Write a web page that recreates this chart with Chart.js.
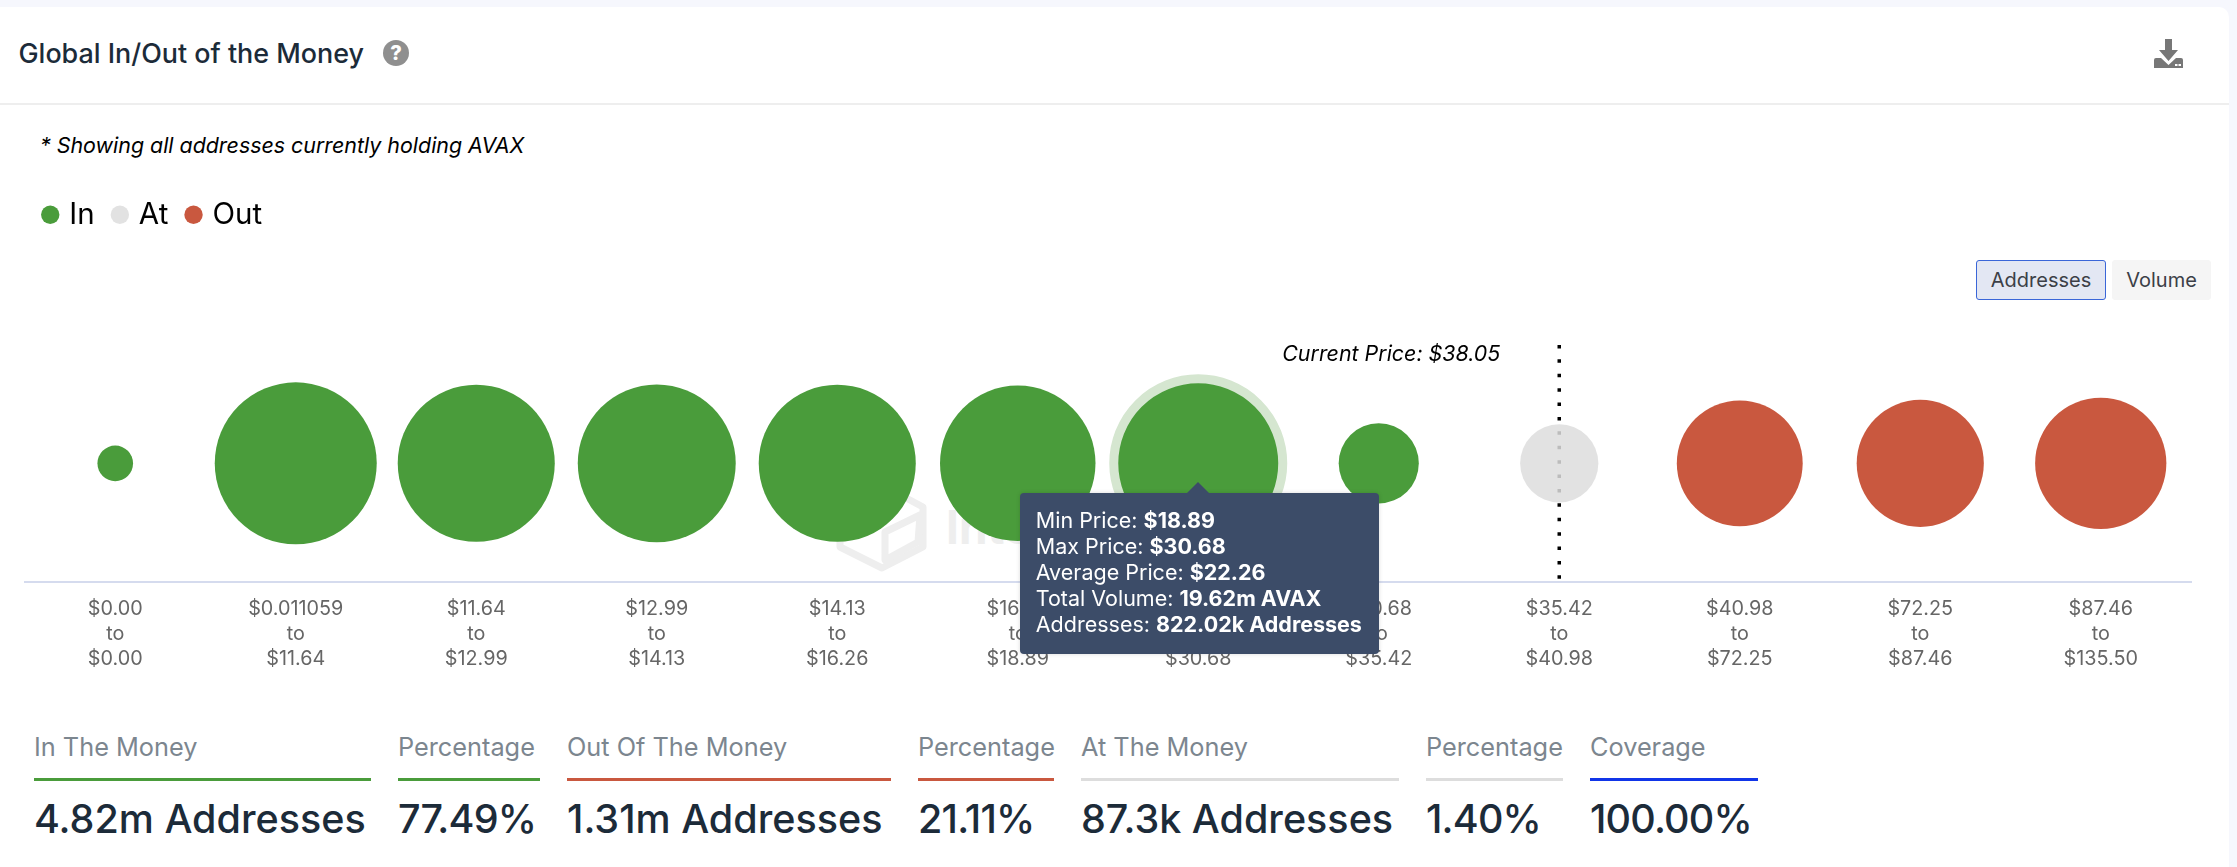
<!DOCTYPE html>
<html>
<head>
<meta charset="utf-8">
<title>Global In/Out of the Money</title>
<script src="https://cdn.jsdelivr.net/npm/chart.js@4/dist/chart.umd.js"></script>
<style>
  html, body { margin: 0; padding: 0; background: #f6f7fd; }
  body { width: 2237px; height: 867px; position: relative; overflow: hidden; font-family: Inter, sans-serif; }
  #card { position: absolute; left: 0; top: 7px; width: 2229px; height: 860px; background: #fff; border-top-right-radius: 10px; }
  #headerLine { position: absolute; left: 0; top: 103px; width: 2229px; height: 2px; background: #eeeeee; }
  #title { position: absolute; left: 18.500px; top: 36px; font-size: 26.9px; line-height: 34px; font-weight: 500; color: #1c2b39; white-space: nowrap; }
  #help { position: absolute; left: 383px; top: 40px; width: 26px; height: 26px; border-radius: 50%; background: #8f8f8f; color: #fff; font-size: 20px; font-weight: 800; line-height: 26px; text-align: center; }
  #download { position: absolute; left: 2154px; top: 39px; }
  #nota { position: absolute; left: 40px; top: 130px; font-size: 21.4px; line-height: 30px; font-style: italic; color: #000; white-space: nowrap; }
  .btn { position: absolute; top: 260px; height: 40px; box-sizing: border-box; font-size: 20px; line-height: 38px; text-align: center; color: #3c3f47; border-radius: 3px; }
  #btnAddresses { left: 1976px; width: 130px; background: #e3e7f3; border: 1px solid #3a66d8; }
  #btnVolume { left: 2112px; width: 99px; background: #f5f5f5; border: 1px solid #f5f5f5; }
  #marca { position: absolute; left: 830px; top: 475px; }
  #grafico { position: absolute; left: 0; top: 179px; }
  #tooltip { position: absolute; box-sizing: border-box; width: 359px; height: 161px; padding: 14px 15.5px; background: #3c4c68; border-radius: 4px; box-shadow: 0 0 4px rgba(0,0,0,0.15); color: #fff; font-size: 21.5px; line-height: 26px; white-space: nowrap; }
  #tooltip b { font-weight: 700; }
  #tooltip:before { content: ""; position: absolute; left: 167px; top: -11px; border-left: 11px solid transparent; border-right: 11px solid transparent; border-bottom: 11px solid #3c4c68; }
  #stats div.stat { position: absolute; top: 730px; }
  .stat .lbl { font-size: 25.3px; line-height: 34px; color: #7c868f; white-space: nowrap; }
  .stat .raya { height: 3px; margin-top: 14px; }
  .stat .val { font-size: 39.5px; line-height: 44px; margin-top: 16px; font-weight: 500; color: #1c2b39; white-space: nowrap; }
  .stat .val.pct { letter-spacing: -0.8px; }
</style>
</head>
<body>
<div id="card"></div>
<div id="headerLine"></div>
<div id="title">Global In/Out of the Money</div>
<div id="help">?</div>
<svg id="download" width="29" height="29" viewBox="0 0 29 29">
  <path d="M11 0h7v11h6L14.500 22 5 11h6z" fill="#777"/>
  <path d="M0 21q0-2 2-2h5l7.500 7 7.500-7h5q2 0 2 2v8H0z" fill="#777"/>
  <rect x="21" y="25" width="2.500" height="2" fill="#fff"/>
  <rect x="24.500" y="25" width="2.500" height="2" fill="#fff"/>
</svg>
<div id="nota">* Showing all addresses currently holding AVAX</div>
<div class="btn" id="btnAddresses">Addresses</div>
<div class="btn" id="btnVolume">Volume</div>
<svg id="marca" width="420" height="100" viewBox="830 475 420 100">
  <g fill="none" stroke="#eeeeee" stroke-width="7" stroke-linejoin="round">
    <path d="M882 485L923 507V547L882 568L840 547V507Z"/>
    <path d="M885 532L920 515L918 542L885 560Z"/>
  </g>
  <text x="946" y="544" font-family="Inter, sans-serif" font-size="46" font-weight="700" fill="#eeeeee">IntoTheBlock</text>
</svg>
<canvas id="grafico" width="2237" height="507"></canvas>
<div id="tooltip">
  Min Price: <b>$18.89</b><br>
  Max Price: <b>$30.68</b><br>
  Average Price: <b>$22.26</b><br>
  Total Volume: <b>19.62m AVAX</b><br>
  Addresses: <b>822.02k Addresses</b>
</div>
<div id="stats"></div>

<script>
// Datos
const desde = ["$0.00", "$0.011059", "$11.64", "$12.99", "$14.13", "$16.26", "$18.89", "$30.68", "$35.42", "$40.98", "$72.25", "$87.46"];
const hasta = ["$0.00", "$11.64", "$12.99", "$14.13", "$16.26", "$18.89", "$30.68", "$35.42", "$40.98", "$72.25", "$87.46", "$135.50"];

const enDinero = [7.4, 855, 776, 790, 776, 752, 822.02, 94, null, null, null, null];
const enPrecio = [null, null, null, null, null, null, null, null, 87.3, null, null, null];
const fueraDinero = [null, null, null, null, null, null, null, null, null, 388, 400, 442];

const precioActual = "Current Price: $38.05";
const indiceActual = 8;
const indiceMarcado = 6;

const statNombres = ["In The Money", "Percentage", "Out Of The Money", "Percentage", "At The Money", "Percentage", "Coverage"];
const statValores = ["4.82m Addresses", "77.49%", "1.31m Addresses", "21.11%", "87.3k Addresses", "1.40%", "100.00%"];

const VERDE = "#4a9c3b";
const GRIS = "rgba(221,221,221,0.85)";
const ROJO = "#c9583f";

// Tarjetas de abajo
const statX = [34, 398, 567, 918, 1081, 1426, 1590];
const statAncho = [337, 142, 324, 136, 318, 137, 168];
const statColor = [VERDE, VERDE, ROJO, ROJO, "#dddddd", "#dddddd", "#1135e8"];
const stats = document.getElementById("stats");
statNombres.forEach((nombre, i) => {
  const d = document.createElement("div");
  const clase = statValores[i].endsWith("%") ? "val pct" : "val";
  d.className = "stat";
  d.style.left = statX[i] + "px";
  d.style.width = statAncho[i] + "px";
  d.innerHTML = `<div class="lbl">${nombre}</div><div class="raya" style="background:${statColor[i]}"></div><div class="${clase}">${statValores[i]}</div>`;
  stats.appendChild(d);
});

// radio de la burbuja segun direcciones
const radio = (v) => 9.4 * Math.pow(v, 0.319);
const BORDE_MARCADO = 9;

const puntos = (lista) =>
  lista
    .map((v, i) =>
      v === null ? null : { x: desde[i], y: 0, r: i === indiceMarcado ? radio(v) + BORDE_MARCADO / 2 : radio(v) }
    )
    .filter(Boolean);

const esMarcado = (c) => c.raw && c.raw.x === desde[indiceMarcado];

// Texto del precio actual
const textoPrecio = {
  id: "textoPrecio",
  afterDraw(chart) {
    const { ctx, scales } = chart;
    ctx.save();
    ctx.font = "italic 21.4px Inter, sans-serif";
    ctx.fillStyle = "#000";
    ctx.textAlign = "right";
    ctx.textBaseline = "middle";
    ctx.fillText(precioActual, scales.x.getPixelForValue(indiceActual) - 59, scales.y.getPixelForValue(1) + 10);
    ctx.restore();
  },
};

// Grafico
const PX_POR_UNIDAD = 118.4;
const canvas = document.getElementById("grafico");
const grafico = new Chart(canvas, {
  data: {
    labels: desde,
    datasets: [
      {
        type: "bubble",
        label: "In",
        data: puntos(enDinero),
        backgroundColor: VERDE,
        borderColor: (c) => (esMarcado(c) ? "#d5e6d0" : VERDE),
        borderWidth: (c) => (esMarcado(c) ? BORDE_MARCADO : 0),
        clip: false,
        order: 1,
      },
      {
        type: "bubble",
        label: "At",
        data: puntos(enPrecio),
        backgroundColor: GRIS,
        borderWidth: 0,
        clip: false,
        order: 1,
      },
      {
        type: "bubble",
        label: "Out",
        data: puntos(fueraDinero),
        backgroundColor: ROJO,
        borderWidth: 0,
        clip: false,
        order: 1,
      },
      {
        type: "line",
        label: "precio",
        data: [
          { x: desde[indiceActual], y: 1 },
          { x: desde[indiceActual], y: -1 },
        ],
        borderColor: "#000",
        borderWidth: 3.5,
        borderDash: [3.5, 10.9],
        pointRadius: 0,
        clip: false,
        order: 2,
      },
    ],
  },
  options: {
    responsive: false,
    animation: false,
    events: [],
    layout: { autoPadding: false, padding: { left: 25, right: 46, top: 0, bottom: 0 } },
    scales: {
      x: {
        type: "category",
        offset: true,
        grid: { display: false, drawTicks: false },
        border: { color: "#d5dbee", width: 2 },
        ticks: {
          color: "#666",
          font: { family: "Inter", size: 19.8, lineHeight: 1.25 },
          padding: 15,
          maxRotation: 0,
          autoSkip: false,
          callback: (v, i) => [desde[i], "to", hasta[i]],
        },
      },
      y: { display: false, min: -1, max: 2 },
    },
    plugins: {
      tooltip: { enabled: false },
      legend: {
        position: "top",
        align: "start",
        labels: {
          usePointStyle: true,
          pointStyle: "circle",
          boxWidth: 8.5,
          boxHeight: 13,
          color: "#000",
          font: { family: "Inter", size: 29.5 },
          padding: 21,
          filter: (item) => item.text !== "precio",
        },
      },
    },
  },
  plugins: [textoPrecio],
});

// el tope del eje se ajusta para que y=1 quede donde empieza la linea punteada
grafico.options.scales.y.max = (grafico.chartArea.bottom - grafico.chartArea.top) / PX_POR_UNIDAD - 1;
grafico.update();

// tooltip fijo sobre la burbuja marcada
const tip = document.getElementById("tooltip");
tip.style.left = grafico.scales.x.getPixelForValue(indiceMarcado) - 178 + "px";
tip.style.top = "493px";
</script>
</body>
</html>
